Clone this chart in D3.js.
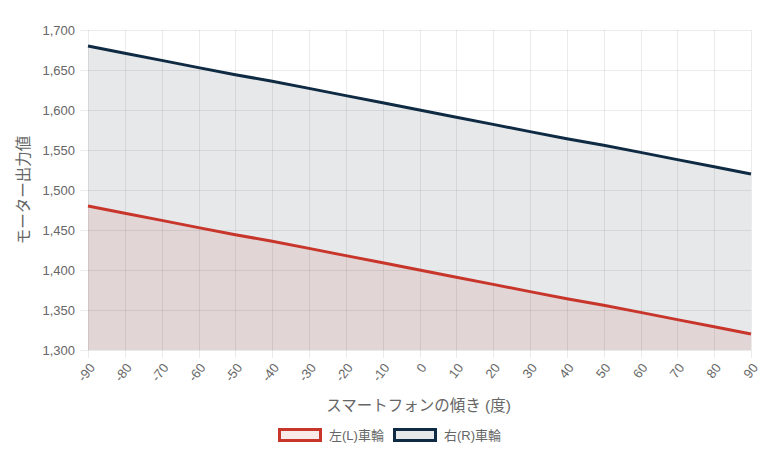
<!DOCTYPE html>
<html>
<head>
<meta charset="utf-8">
<script src="https://cdn.jsdelivr.net/npm/d3@7"></script>
<style>
  body { margin: 0; background: #fff; }
  text { font-family: "Liberation Sans", "Noto Sans CJK JP", sans-serif; fill: #666; }
</style>
</head>
<body>
<div id="chart"></div>
<script>

// angles of the phone (x axis)
var angles = [-90, -80, -70, -60, -50, -40, -30, -20, -10, 0, 10, 20, 30, 40, 50, 60, 70, 80, 90];
// motor output values
var leftWheel = [1480, 1471, 1462, 1453, 1444, 1436, 1427, 1418, 1409, 1400, 1391, 1382, 1373, 1364, 1356, 1347, 1338, 1329, 1320];
var rightWheel = [1680, 1671, 1662, 1653, 1644, 1636, 1627, 1618, 1609, 1600, 1591, 1582, 1573, 1564, 1556, 1547, 1538, 1529, 1520];
var yTicks = [1300, 1350, 1400, 1450, 1500, 1550, 1600, 1650, 1700];
var seriesNames = ['左(L)車輪', '右(R)車輪'];

var W = 767, H = 452;
var margin = {top: 30, right: 16, bottom: 102, left: 88};
var width = W - margin.left - margin.right,
    height = H - margin.top - margin.bottom;

var svg = d3.select('#chart').append('svg')
    .attr('width', W).attr('height', H);
var g = svg.append('g')
    .attr('transform', 'translate(' + margin.left + ',' + margin.top + ')');

var x = d3.scaleLinear().domain([-90, 90]).range([0, width]);
var y = d3.scaleLinear().domain([1300, 1700]).range([height, 0]);

// grid lines (with short tick marks outside the plot)
g.append('g').selectAll('line').data(yTicks).enter().append('line')
    .attr('x1', -8).attr('x2', width)
    .attr('y1', function(d) { return Math.round(y(d)) + 0.5; })
    .attr('y2', function(d) { return Math.round(y(d)) + 0.5; })
    .attr('stroke', 'rgba(0,0,0,0.08)');
g.append('g').selectAll('line').data(angles).enter().append('line')
    .attr('x1', function(d) { return Math.round(x(d)) + 0.5; })
    .attr('x2', function(d) { return Math.round(x(d)) + 0.5; })
    .attr('y1', 0).attr('y2', height + 8)
    .attr('stroke', 'rgba(0,0,0,0.08)');

// series
var series = [
    {name: seriesNames[1], values: rightWheel, stroke: '#0f2a43', fill: 'rgba(60,75,85,0.13)'},
    {name: seriesNames[0], values: leftWheel, stroke: '#c8352b', fill: 'rgba(200,53,43,0.1)'}
];

var area = d3.area()
    .x(function(d, i) { return x(angles[i]); })
    .y0(height)
    .y1(function(d) { return y(d); });
var line = d3.line()
    .x(function(d, i) { return x(angles[i]); })
    .y(function(d) { return y(d); });

series.forEach(function(s) {
    g.append('path').datum(s.values)
        .attr('fill', s.fill)
        .attr('d', area);
});
series.forEach(function(s) {
    g.append('path').datum(s.values)
        .attr('fill', 'none')
        .attr('stroke', s.stroke)
        .attr('stroke-width', 3)
        .attr('d', line);
});

// y axis labels
g.append('g').selectAll('text').data(yTicks).enter().append('text')
    .attr('x', -13)
    .attr('y', function(d) { return y(d); })
    .attr('dy', '0.35em')
    .attr('text-anchor', 'end')
    .style('font-size', '13px')
    .text(function(d) { return d3.format(',')(d); });

// x axis labels, rotated
g.append('g').selectAll('text').data(angles).enter().append('text')
    .attr('transform', function(d) { return 'translate(' + (x(d) + 4) + ',' + (height + 15) + ') rotate(-52)'; })
    .attr('text-anchor', 'end')
    .attr('dy', '0.35em')
    .style('font-size', '13px')
    .text(function(d) { return d; });

// axis titles
svg.append('text')
    .attr('x', margin.left + width / 2 - 1)
    .attr('y', 411)
    .attr('text-anchor', 'middle')
    .style('font-size', '15.5px')
    .text('スマートフォンの傾き (度)');
svg.append('text')
    .attr('transform', 'translate(29,' + (margin.top + height / 2) + ') rotate(-90)')
    .attr('text-anchor', 'middle')
    .style('font-size', '15.5px')
    .text('モーター出力値');

// legend
var legend = [
    {name: seriesNames[0], stroke: '#c8352b', fill: 'rgba(200,53,43,0.1)', x: 278},
    {name: seriesNames[1], stroke: '#0f2a43', fill: 'rgba(60,75,85,0.13)', x: 393}
];
legend.forEach(function(l) {
    svg.append('rect')
        .attr('x', l.x + 1.5).attr('y', 429.5)
        .attr('width', 41).attr('height', 11)
        .attr('fill', l.fill)
        .attr('stroke', l.stroke)
        .attr('stroke-width', 3);
    svg.append('text')
        .attr('x', l.x + 51).attr('y', 435)
        .attr('dy', '0.35em')
        .style('font-size', '13px')
        .text(l.name);
});

</script>
</body>
</html>
